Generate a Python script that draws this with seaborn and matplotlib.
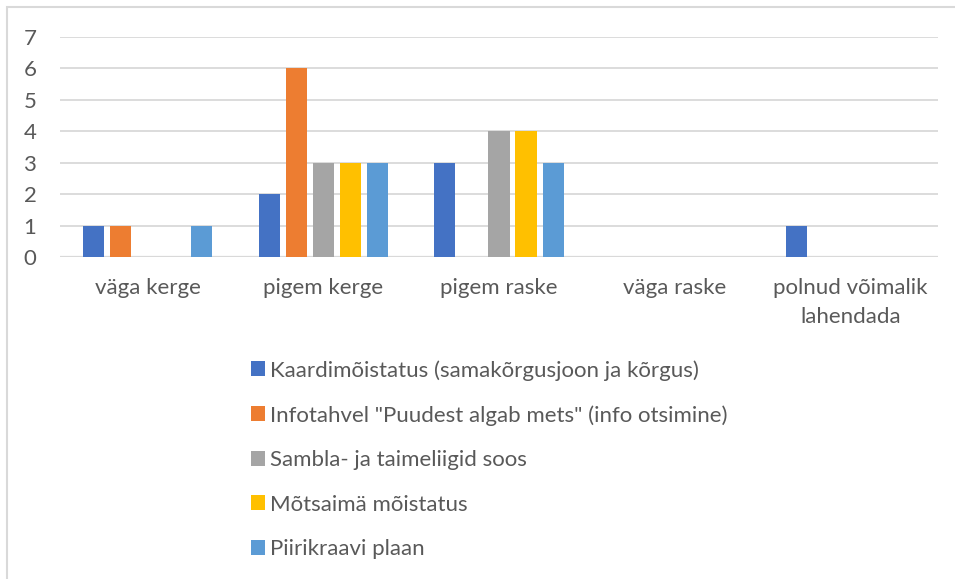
import matplotlib
matplotlib.use("Agg")
import matplotlib.pyplot as plt
import matplotlib.patches as mpatches
import seaborn as sns
import pandas as pd

# ===============================
# Data
# ===============================
categories = ["väga kerge", "pigem kerge", "pigem raske", "väga raske",
              "polnud võimalik\nlahendada"]
series = ["Kaardimõistatus (samakõrgusjoon ja kõrgus)",
          "Infotahvel \"Puudest algab mets\" (info otsimine)",
          "Sambla- ja taimeliigid soos",
          "Mõtsaimä mõistatus",
          "Piirikraavi plaan"]
kaardimoistatus = [1, 2, 3, 0, 1]
infotahvel = [1, 6, 0, 0, 0]
sambla = [0, 3, 4, 0, 0]
motsaima = [0, 3, 4, 0, 0]
piirikraavi = [1, 3, 3, 0, 0]
colors = ["#4472C4", "#ED7D31", "#A5A5A5", "#FFC000", "#5B9BD5"]

values = [kaardimoistatus, infotahvel, sambla, motsaima, piirikraavi]
rows = []
for name, vals in zip(series, values):
    for cat, v in zip(categories, vals):
        rows.append({"kategooria": cat, "arv": v, "ülesanne": name})
df = pd.DataFrame(rows)

# ===============================
# Plot
# ===============================
sns.set_style("white")
plt.rcParams["font.family"] = ["Lato", "DejaVu Sans"]
text_color = "#595959"
grid_color = "#D9D9D9"

fig = plt.figure(figsize=(9.55, 5.79), dpi=100)
ax = fig.add_axes([60 / 955, 1 - 257 / 579, 878 / 955, 220 / 579])

sns.barplot(data=df, x="kategooria", y="arv", hue="ülesanne",
            order=categories, hue_order=series, palette=colors,
            saturation=1, width=0.77, gap=0.22, linewidth=0, ax=ax)

ax.set_ylim(0, 7)
ax.set_yticks(range(0, 8))
ax.set_xlim(-0.5, len(categories) - 0.5)
ax.yaxis.grid(True, color=grid_color, linewidth=1.3)
ax.set_axisbelow(True)
for s in ax.spines.values():
    s.set_visible(False)
ax.axhline(0, color=grid_color, linewidth=1.6, zorder=0.5)
ax.tick_params(axis="both", length=0, labelsize=16, colors=text_color)
ax.tick_params(axis="y", pad=17)
ax.tick_params(axis="x", pad=15)
for lbl in ax.get_xticklabels():
    lbl.set_multialignment("center")
    lbl.set_linespacing(1.6)
ax.set_xlabel("")
ax.set_ylabel("")

ax.legend(loc="upper left", bbox_to_anchor=(251 / 955, 1 - 360 / 579),
          bbox_transform=fig.transFigure, frameon=False, fontsize=16,
          labelcolor=text_color, handlelength=0.65, handleheight=0.65,
          handletextpad=0.2, labelspacing=1.1, borderaxespad=0,
          borderpad=0)

# chart border (only left and top visible in the crop)
fig.patches.append(mpatches.Rectangle((7 / 955, -0.1), 1.2, 1.1 - 7 / 579,
                                      transform=fig.transFigure, fill=False,
                                      edgecolor=grid_color, linewidth=1.5))

fig.savefig("out.png", dpi=100)
